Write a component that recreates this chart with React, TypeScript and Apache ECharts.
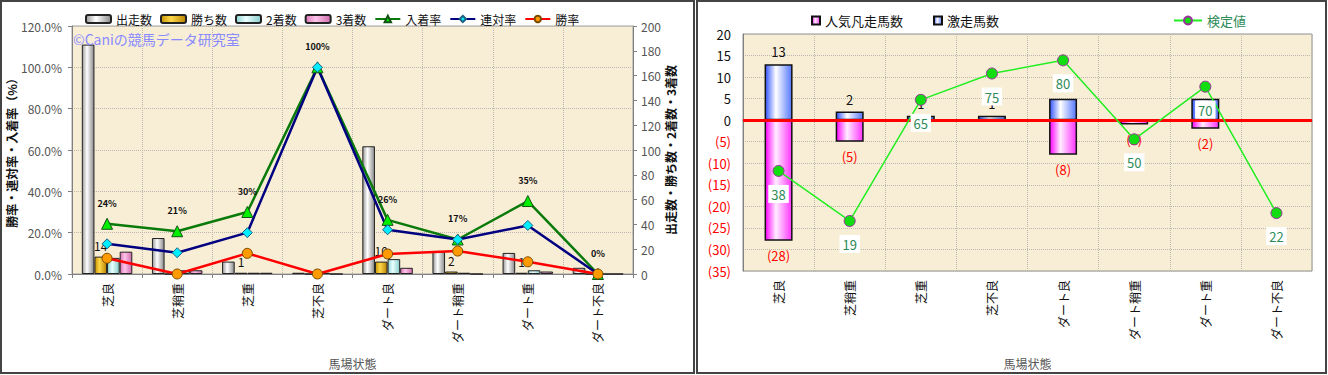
import React, { useEffect, useRef } from "react";
import * as echarts from "echarts";

const categories = ["芝良", "芝稍重", "芝重", "芝不良", "ダート良", "ダート稍重", "ダート重", "ダート不良"];

// left chart
const runs = [185, 29, 10, 1, 103, 18, 17, 5];
const wins = [14, 0, 1, 0, 10, 2, 1, 0];
const seconds = [13, 3, 1, 1, 12, 1, 3, 0];
const thirds = [18, 3, 1, 0, 5, 0, 2, 0];
const placeRate = [24.3, 20.7, 30.0, 100, 26.2, 16.7, 35.3, 0];
const quinellaRate = [14.6, 10.3, 20.0, 100, 21.4, 16.7, 23.5, 0];
const winRate = [7.6, 0, 10.0, 0, 9.7, 11.1, 5.9, 0];

// right chart
const popularFail = [-28, -5, 0, 0, -8, -1, -2, 0];
const longshot = [13, 2, 1, 1, 5, 0, 5, 0];
const testValue = [38, 19, 65, 75, 80, 50, 70, 22];

const FONT = "'Noto Sans CJK JP', 'Noto Sans', sans-serif";

const grad = (a: string, b: string, c: string) =>
  new echarts.graphic.LinearGradient(0, 0, 1, 0, [
    { offset: 0, color: a },
    { offset: 0.4, color: b },
    { offset: 1, color: c },
  ]);

const barBase = (name: string, data: number[], color: any) => ({
  name,
  type: "bar",
  xAxisIndex: 0,
  yAxisIndex: 1,
  data,
  barGap: "0%",
  barCategoryGap: "28%",
  itemStyle: { color, borderColor: "#222", borderWidth: 1 },
});

export default function App() {
  const ref = useRef<HTMLDivElement>(null);
  useEffect(() => {
    const chart = echarts.init(ref.current!, null, { renderer: "svg" });
    const gridLine = { show: true, lineStyle: { color: "#bdb8ad", type: "dotted" as const, width: 1 } };
    const option: any = {
      animation: false,
      textStyle: { fontFamily: FONT },
      graphic: [
        { type: "rect", shape: { x: 1, y: 1, width: 693, height: 372 }, style: { fill: "none", stroke: "#444", lineWidth: 2 } },
        { type: "rect", shape: { x: 697, y: 1, width: 629, height: 372 }, style: { fill: "none", stroke: "#444", lineWidth: 2 } },
        { type: "text", left: 73, top: 32, z: 10, style: { text: "©Caniの競馬データ研究室", fill: "#8a8aff", font: `14px ${FONT}` } },
      ],
      legend: [
        {
          left: 80,
          top: 8,
          itemGap: 8,
          itemWidth: 25,
          itemHeight: 8,
          textStyle: { fontSize: 12, color: "#111", fontFamily: FONT },
          data: ["出走数", "勝ち数", "2着数", "3着数", "入着率", "連対率", "勝率"],
        },
        {
          left: 806,
          top: 9,
          itemGap: 30,
          itemWidth: 8,
          itemHeight: 8,
          icon: "rect",
          textStyle: { fontSize: 13, color: "#111", fontFamily: FONT },
          data: ["人気凡走馬数", "激走馬数"],
        },
        {
          left: 1168,
          top: 9,
          itemWidth: 28,
          itemHeight: 10,
          textStyle: { fontSize: 13, color: "#2e8b57", fontFamily: FONT },
          data: ["検定値"],
        },
      ],
      grid: [
        { left: 72, top: 26, width: 561, height: 248, show: true, backgroundColor: "#f8eed6", borderColor: "#a0a0a0", borderWidth: 1 },
        { left: 743, top: 34, width: 569, height: 237, show: true, backgroundColor: "#f8eed6", borderColor: "#909090", borderWidth: 1 },
      ],
      xAxis: [
        {
          type: "category",
          gridIndex: 0,
          data: categories,
          boundaryGap: true,
          name: "馬場状態",
          nameLocation: "middle",
          nameGap: 83,
          nameTextStyle: { color: "#555", fontSize: 12, fontFamily: FONT },
          axisLine: { lineStyle: { color: "#808080" } },
          axisTick: { show: true, length: 4, lineStyle: { color: "#808080" } },
          axisLabel: { rotate: 90, margin: 9, color: "#111", fontSize: 12, fontFamily: FONT },
          splitLine: gridLine,
        },
        {
          type: "category",
          gridIndex: 1,
          data: categories,
          boundaryGap: true,
          name: "馬場状態",
          nameLocation: "middle",
          nameGap: 86,
          nameTextStyle: { color: "#555", fontSize: 12, fontFamily: FONT },
          axisLine: { lineStyle: { color: "#808080" } },
          axisTick: { show: false },
          axisLabel: { rotate: 90, margin: 9, color: "#111", fontSize: 12, fontFamily: FONT },
          splitLine: gridLine,
        },
      ],
      yAxis: [
        {
          type: "value",
          gridIndex: 0,
          min: 0,
          max: 120,
          interval: 20,
          name: "勝率・連対率・入着率（%）",
          nameLocation: "middle",
          nameRotate: 90,
          nameGap: 54,
          nameTextStyle: { color: "#111", fontSize: 12, fontWeight: "bold", fontFamily: FONT },
          axisLine: { show: true, lineStyle: { color: "#808080" } },
          axisTick: { show: true, length: 4, lineStyle: { color: "#808080" } },
          axisLabel: { formatter: (v: number) => v.toFixed(1) + "%", color: "#555", fontSize: 12, margin: 10 },
          splitLine: gridLine,
        },
        {
          type: "value",
          gridIndex: 0,
          position: "right",
          min: 0,
          max: 200,
          interval: 20,
          name: "出走数・勝ち数・2着数・3着数",
          nameLocation: "middle",
          nameRotate: 90,
          nameGap: 30,
          nameTextStyle: { color: "#111", fontSize: 12, fontWeight: "bold", fontFamily: FONT },
          axisLine: { show: true, lineStyle: { color: "#808080" } },
          axisTick: { show: true, length: 4, lineStyle: { color: "#808080" } },
          axisLabel: { color: "#555", fontSize: 12, margin: 8 },
          splitLine: { show: false },
        },
        {
          type: "value",
          gridIndex: 1,
          min: -35,
          max: 20,
          interval: 5,
          axisLine: { show: true, lineStyle: { color: "#808080" } },
          axisTick: { show: false },
          axisLabel: {
            margin: 12,
            fontSize: 13,
            formatter: (v: number) => (v < 0 ? `{n|(${-v})}` : `{p|${v}}`),
            rich: { n: { color: "#ff0000", fontSize: 13 }, p: { color: "#111", fontSize: 13 } },
          },
          splitLine: gridLine,
        },
        { type: "value", gridIndex: 1, min: 0, max: 90, show: false, splitLine: { show: false } },
      ],
      series: [
        barBase("出走数", runs, grad("#9a9a9a", "#ffffff", "#8a8a8a")),
        {
          ...barBase("勝ち数", wins, grad("#c99400", "#ffd84a", "#b88400")),
          label: {
            show: true,
            position: "top",
            distance: 5,
            color: "#111",
            fontSize: 12,
            formatter: (p: any) => (p.value > 0 ? String(p.value) : ""),
          },
        },
        barBase("2着数", seconds, grad("#8fd4d4", "#eaffff", "#88cccc")),
        barBase("3着数", thirds, grad("#d978b8", "#ffc4ea", "#cc6aaa")),
        {
          name: "入着率",
          type: "line",
          xAxisIndex: 0,
          yAxisIndex: 0,
          data: placeRate,
          z: 5,
          lineStyle: { color: "#0a7a0a", width: 2.5 },
          itemStyle: { color: "#00ee00", borderColor: "#145214", borderWidth: 1 },
          symbol: "triangle",
          symbolSize: 11,
          label: {
            show: true,
            position: "top",
            distance: 10,
            fontSize: 9,
            fontWeight: "bold",
            color: "#111",
            formatter: (p: any) => Math.round(p.value) + "%",
          },
        },
        {
          name: "連対率",
          type: "line",
          xAxisIndex: 0,
          yAxisIndex: 0,
          data: quinellaRate,
          z: 5,
          lineStyle: { color: "#000080", width: 2.5 },
          itemStyle: { color: "#00eeff", borderColor: "#206080", borderWidth: 1 },
          symbol: "diamond",
          symbolSize: 10,
        },
        {
          name: "勝率",
          type: "line",
          xAxisIndex: 0,
          yAxisIndex: 0,
          data: winRate,
          z: 5,
          lineStyle: { color: "#ff0000", width: 2.5 },
          itemStyle: { color: "#ff9a00", borderColor: "#7a4a00", borderWidth: 1 },
          symbol: "circle",
          symbolSize: 10,
        },
        {
          name: "人気凡走馬数",
          type: "bar",
          xAxisIndex: 1,
          yAxisIndex: 2,
          data: popularFail,
          barWidth: 28,
          barGap: "-100%",
          itemStyle: { color: grad("#ff00ff", "#ffeeff", "#ff33ff"), borderColor: "#111", borderWidth: 1.5 },
          label: {
            show: true,
            position: "bottom",
            distance: 8,
            color: "#ff0000",
            fontSize: 13,
            formatter: (p: any) => (p.value < 0 ? `(${-p.value})` : ""),
          },
        },
        {
          name: "激走馬数",
          type: "bar",
          xAxisIndex: 1,
          yAxisIndex: 2,
          data: longshot,
          barWidth: 28,
          barGap: "-100%",
          itemStyle: { color: grad("#3355ff", "#ffffff", "#5577ff"), borderColor: "#111", borderWidth: 1.5 },
          label: {
            show: true,
            position: "top",
            distance: 6,
            color: "#111",
            fontSize: 13,
            formatter: (p: any) => (p.value > 0 ? String(p.value) : ""),
          },
          markLine: {
            silent: true,
            symbol: "none",
            label: { show: false },
            lineStyle: { color: "#ff0000", width: 3, type: "solid" },
            data: [{ yAxis: 0 }],
          },
        },
        {
          name: "検定値",
          type: "line",
          xAxisIndex: 1,
          yAxisIndex: 3,
          data: testValue,
          z: 6,
          lineStyle: { color: "#22ee22", width: 1.5 },
          itemStyle: { color: "#11dd11", borderColor: "#993399", borderWidth: 1 },
          symbol: "circle",
          symbolSize: 11,
          label: {
            show: true,
            position: "bottom",
            distance: 8,
            color: "#2e8b57",
            fontSize: 13,
            backgroundColor: "#ffffff",
            padding: [3, 3, 2, 3],
          },
        },
      ],
    };
    chart.setOption(option);
    return () => chart.dispose();
  }, []);
  return (
    <div
      ref={ref}
      style={{ position: "absolute", left: 0, top: 0, width: 1328, height: 375, background: "#ffffff" }}
    />
  );
}
